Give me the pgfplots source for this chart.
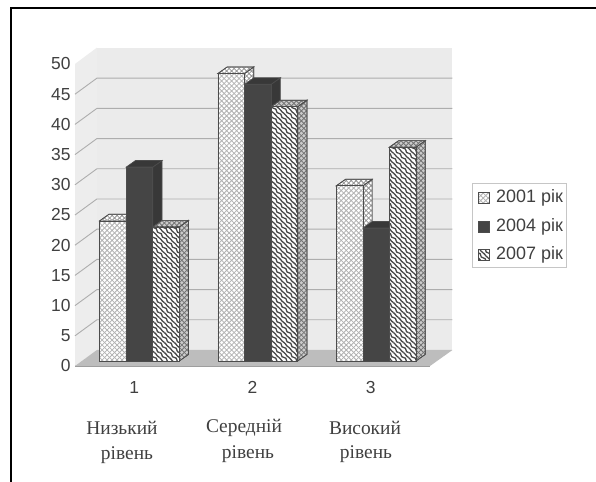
\documentclass[border=0pt]{standalone}
\usepackage{pgfplots}
\usepackage{pgfplotstable}
\pgfplotsset{compat=1.18}
\usepackage{fontspec}
\setmainfont{Liberation Sans}
\newfontfamily\serifuk{Liberation Serif}
\usetikzlibrary{patterns}
\definecolor{wallc}{gray}{0.92}
\definecolor{sidec}{gray}{0.93}
\definecolor{floorc}{gray}{0.74}
\definecolor{gridc}{gray}{0.68}
\definecolor{axc}{gray}{0.62}
\definecolor{darkb}{gray}{0.27}
\definecolor{darkt}{gray}{0.22}
\definecolor{txt}{gray}{0.25}
\definecolor{edge}{gray}{0.3}
\pgfdeclarepatternformonly{lattice}{\pgfpoint{-1pt}{-1pt}}{\pgfpoint{6pt}{6pt}}{\pgfpoint{5pt}{5pt}}{%
  \pgfsetlinewidth{0.8pt}
  \pgfpathmoveto{\pgfpoint{0pt}{0pt}}\pgfpathlineto{\pgfpoint{5pt}{5pt}}
  \pgfpathmoveto{\pgfpoint{0pt}{5pt}}\pgfpathlineto{\pgfpoint{5pt}{0pt}}
  \pgfusepath{stroke}}
\pgfdeclarepatternformonly{shingle}{\pgfpoint{-1pt}{-1pt}}{\pgfpoint{11pt}{11pt}}{\pgfpoint{10pt}{10pt}}{%
  \pgfsetlinewidth{1.3pt}
  \pgfpathmoveto{\pgfpoint{0pt}{10pt}}
  \pgfpathcurveto{\pgfpoint{4pt}{10pt}}{\pgfpoint{1pt}{5pt}}{\pgfpoint{5pt}{5pt}}
  \pgfpathcurveto{\pgfpoint{9pt}{5pt}}{\pgfpoint{6pt}{0pt}}{\pgfpoint{10pt}{0pt}}
  \pgfpathmoveto{\pgfpoint{5pt}{10pt}}
  \pgfpathcurveto{\pgfpoint{6.5pt}{10pt}}{\pgfpoint{6.5pt}{7pt}}{\pgfpoint{10pt}{5pt}}
  \pgfpathmoveto{\pgfpoint{0pt}{5pt}}
  \pgfpathcurveto{\pgfpoint{1.5pt}{5pt}}{\pgfpoint{1.5pt}{2pt}}{\pgfpoint{5pt}{0pt}}
  \pgfusepath{stroke}}
\tikzset{
 sa/.style={preaction={fill=white},pattern=lattice,pattern color=gray!60},
 saside/.style={preaction={fill=white},pattern=lattice,pattern color=gray!85},
 sb/.style={fill=darkb},
 sbside/.style={fill=darkt},
 sc/.style={preaction={fill=white},pattern=shingle,pattern color=black!72},
 scside/.style={preaction={fill=gray!40},pattern=lattice,pattern color=gray!90!black},
}
\pgfplotstableread{
dx      base  k
-0.1122 0.83  0
0.1122  0.83  0
0.1122  0.83  1
-0.1122 0.83  1
}\frontface
\pgfplotstableread{
dx      base  k
0.1122  0.83  0
0.1902  1.91  0
0.1902  1.91  1
0.1122  0.83  1
}\sideface
\pgfplotstableread{
dx      base  k
-0.1122 0.83  1
0.1122  0.83  1
0.1902  1.91  1
-0.0342 1.91  1
}\topface
\pgfplotstableread{
gx    gy
0.5   0
0.685 2.65
3.69  2.65
}\gridline
\newcommand\oneface[4]{\addplot[#4,draw=edge,line width=0.7pt,forget plot] table[x expr=#1+\thisrow{dx},y expr=\thisrow{base}+#2*\thisrow{k}] {#3} --cycle;}
\newcommand\sbar[5]{\oneface{#1}{#2}{\sideface}{#4}\oneface{#1}{#2}{\topface}{#5}\oneface{#1}{#2}{\frontface}{#3}}
\begin{document}
\begin{tikzpicture}[x=1bp,y=1bp]
\path[use as bounding box] (0,0) rectangle (596,482);
\fill[white] (0,0) rectangle (596,482);
\draw[black,line width=1.8pt] (11,0) -- (11,474) -- (596,474);
\begin{axis}[
  at={(75bp,116bp)}, anchor=south west,
  width=355bp, height=302bp, scale only axis,
  xmin=0.5, xmax=3.5, ymin=0, ymax=50,
  clip=false,
  axis line style={axc,line width=0.8pt},
  axis x line*=bottom, axis y line*=left,
  ytick={0,5,...,50},
  xtick={1,2,3},
  extra x ticks={0.5,1.5,2.5,3.5},
  extra x tick labels={},
  extra x tick style={major tick length=6bp,tick style={axc,line width=0.8pt}},
  x tick style={draw=none},
  tick style={axc,line width=0.8pt},
  y tick style={axc,line width=0.8pt},
  major tick length=6bp,
  /pgf/number format/assume math mode=true,
  tick label style={font=\fontsize{17.5}{19}\selectfont,text=txt},
  yticklabel style={xshift=-1bp},
  xticklabel style={yshift=-12bp},
]
\addplot[fill=sidec,draw=none,forget plot] coordinates {(0.5,0)(0.685,2.65)(0.685,52.7)(0.5,50)} --cycle;
\addplot[fill=wallc,draw=none,forget plot] coordinates {(0.685,2.65)(3.69,2.65)(3.69,52.7)(0.685,52.7)} --cycle;
\addplot[fill=floorc,draw=none,forget plot] coordinates {(0.5,0)(3.5,0)(3.69,2.65)(0.685,2.65)} --cycle;
\pgfplotsinvokeforeach{5,10,...,45}{
 \addplot[gridc,line width=0.9pt,forget plot] table[x=gx,y expr=#1+\thisrow{gy}] {\gridline};
}
\sbar{0.8205}{23.2}{sa}{saside}{saside}
\sbar{1.0450}{32.1}{sb}{sbside}{sbside}
\sbar{1.2695}{22.2}{sc}{scside}{scside}
\sbar{1.8205}{47.6}{sa}{saside}{saside}
\sbar{2.0450}{45.8}{sb}{sbside}{sbside}
\sbar{2.2695}{42.1}{sc}{scside}{scside}
\sbar{2.8205}{29.0}{sa}{saside}{saside}
\sbar{3.0450}{22.0}{sb}{sbside}{sbside}
\sbar{3.2695}{35.4}{sc}{scside}{scside}
\end{axis}
\draw[gray!45,line width=0.7pt,fill=white] (472.5,299) rectangle (566.5,215);
\foreach \yy/\st/\lab in {284/sa/2001,255.5/sb/2004,227/sc/2007}{
  \draw[edge,line width=0.7pt,\st] (478.5,\yy-5.5) rectangle (489.5,\yy+5.5);
  \node[anchor=west,inner sep=0pt,text=txt,font=\fontsize{18}{20}\selectfont] at (496,\yy) {\lab\ рік};
}
\begin{scope}[every node/.style={text=txt,inner sep=0pt,font=\serifuk\fontsize{19.5}{23}\selectfont}]
\node at (122,54) {Низький};
\node at (127,27) {рівень};
\node at (244,54) {Середній};
\node at (248,28) {рівень};
\node at (365,54) {Високий};
\node at (366,28) {рівень};
\end{scope}
\end{tikzpicture}
\end{document}
